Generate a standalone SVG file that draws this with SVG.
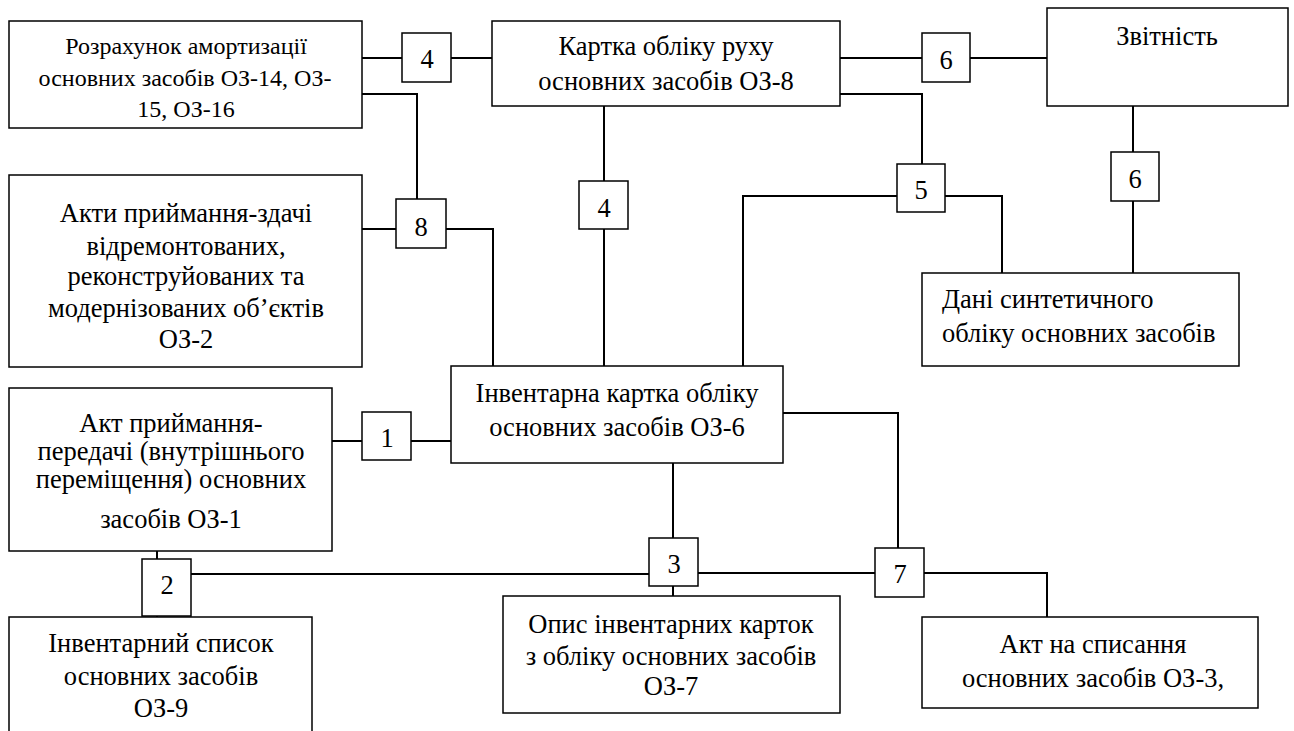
<svg xmlns="http://www.w3.org/2000/svg" width="1294" height="731" viewBox="0 0 1294 731">
<style>
.bx{fill:#fff;stroke:#000;stroke-width:1.5}
.ln{fill:none;stroke:#000;stroke-width:2}
text{font-family:"Liberation Serif","Times New Roman",serif;font-size:26.5px;fill:#000}
.c{text-anchor:middle}
.sm{font-size:24px}
</style>
<rect width="1294" height="731" fill="#fff"/>
<g id="connectors">
<path class="ln" d="M362,58H402M451,58H492"/>
<path class="ln" d="M362,94H417V199"/>
<path class="ln" d="M362,229H396M446,229H493V366"/>
<path class="ln" d="M604,106V181M604,229V366"/>
<path class="ln" d="M840,58H922M970,58H1047"/>
<path class="ln" d="M840,94H922V164"/>
<path class="ln" d="M897,196H743V366"/>
<path class="ln" d="M945,196H1002V273"/>
<path class="ln" d="M1133,106V152M1133,201V273"/>
<path class="ln" d="M332,441H362M411,441H451"/>
<path class="ln" d="M157,551V559M157,616V617"/>
<path class="ln" d="M191,574H649M698,573H875M924,573H1047V617"/>
<path class="ln" d="M673,463V538M673,586V597"/>
<path class="ln" d="M783,413H898V548"/>
</g>
<g id="node-rozrakhunok">
<rect class="bx" x="9" y="21" width="353" height="107"/>
<text class="c sm" x="186" y="54">Розрахунок амортизації</text>
<text class="c sm" x="185" y="86">основних засобів ОЗ-14, ОЗ-</text>
<text class="c sm" x="186" y="117">15, ОЗ-16</text>
</g>
<g id="node-kartka-rukhu">
<rect class="bx" x="492" y="21" width="348" height="85"/>
<text class="c" x="666" y="55">Картка обліку руху</text>
<text class="c" x="666" y="90">основних засобів ОЗ-8</text>
</g>
<g id="node-zvitnist">
<rect class="bx" x="1047" y="8" width="241" height="98"/>
<text class="c" x="1167" y="45">Звітність</text>
</g>
<g id="node-akty">
<rect class="bx" x="9" y="175" width="353" height="192"/>
<text class="c" x="186" y="222">Акти приймання-здачі</text>
<text class="c" x="186" y="255">відремонтованих,</text>
<text class="c" x="186" y="285">реконструйованих та</text>
<text class="c" x="186" y="317">модернізованих об’єктів</text>
<text class="c" x="186" y="348">ОЗ-2</text>
</g>
<g id="node-dani">
<rect class="bx" x="922" y="273" width="317" height="93"/>
<text x="942" y="308">Дані синтетичного</text>
<text x="942" y="342">обліку основних засобів</text>
</g>
<g id="node-inventarna">
<rect class="bx" x="451" y="366" width="332" height="97"/>
<text class="c" x="617" y="402">Інвентарна картка обліку</text>
<text class="c" x="617" y="436">основних засобів ОЗ-6</text>
</g>
<g id="node-akt-pryimannia">
<rect class="bx" x="9" y="388" width="323" height="163"/>
<text class="c" x="171" y="432">Акт приймання-</text>
<text class="c" x="171" y="460">передачі (внутрішнього</text>
<text class="c" x="171" y="488">переміщення) основних</text>
<text class="c" x="171" y="528">засобів ОЗ-1</text>
</g>
<g id="node-inventarnyi-spysok">
<path class="bx" d="M9,731V617H312V731"/>
<text class="c" x="161" y="652">Інвентарний список</text>
<text class="c" x="161" y="685">основних засобів</text>
<text class="c" x="161" y="717">ОЗ-9</text>
</g>
<g id="node-opys">
<rect class="bx" x="503" y="596" width="337" height="117"/>
<text class="c" x="671" y="633">Опис інвентарних карток</text>
<text class="c" x="671" y="665">з обліку основних засобів</text>
<text class="c" x="671" y="695">ОЗ-7</text>
</g>
<g id="node-akt-spysannia">
<rect class="bx" x="922" y="617" width="336" height="91"/>
<text class="c" x="1093" y="653">Акт на списання</text>
<text class="c" x="1093" y="687">основних засобів ОЗ-3,</text>
</g>
<g id="label-4a"><rect class="bx" x="402" y="33" width="49" height="49"/><text class="c" x="427" y="68">4</text></g>
<g id="label-6a"><rect class="bx" x="922" y="33" width="48" height="49"/><text class="c" x="946" y="69">6</text></g>
<g id="label-5"><rect class="bx" x="897" y="164" width="48" height="48"/><text class="c" x="921" y="199">5</text></g>
<g id="label-6b"><rect class="bx" x="1111" y="152" width="48" height="49"/><text class="c" x="1135" y="188">6</text></g>
<g id="label-8"><rect class="bx" x="396" y="199" width="50" height="49"/><text class="c" x="421" y="236">8</text></g>
<g id="label-4b"><rect class="bx" x="579" y="181" width="49" height="48"/><text class="c" x="604" y="217">4</text></g>
<g id="label-1"><rect class="bx" x="362" y="412" width="49" height="48"/><text class="c" x="387" y="447">1</text></g>
<g id="label-2"><rect class="bx" x="142" y="559" width="49" height="57"/><text class="c" x="167" y="594">2</text></g>
<g id="label-3"><rect class="bx" x="649" y="538" width="49" height="48"/><text class="c" x="674" y="573">3</text></g>
<g id="label-7"><rect class="bx" x="875" y="548" width="49" height="49"/><text class="c" x="900" y="583">7</text></g>
</svg>
